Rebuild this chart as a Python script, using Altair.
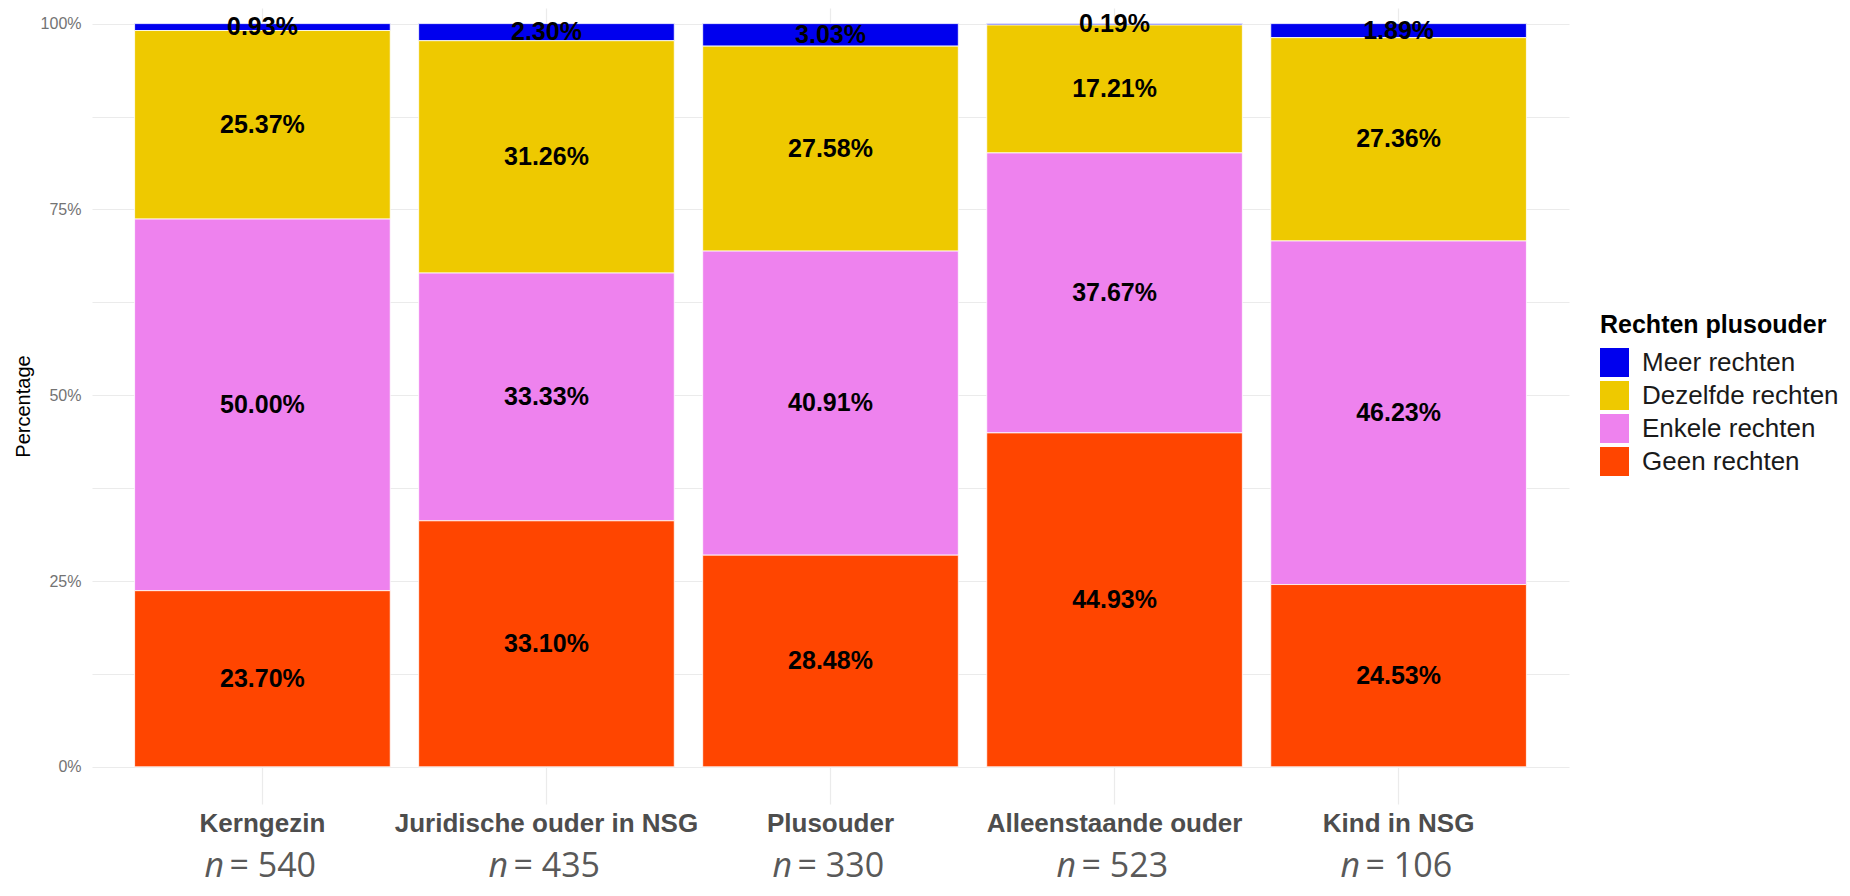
import altair as alt
import pandas as pd

categories = ["Kerngezin", "Juridische ouder in NSG", "Plusouder", "Alleenstaande ouder", "Kind in NSG"]
groups = ["Meer rechten", "Dezelfde rechten", "Enkele rechten", "Geen rechten"]
colors = ["#0000EE", "#EEC900", "#EE82EE", "#FF4500"]

meer = [0.93, 2.30, 3.03, 0.19, 1.89]
dezelfde = [25.37, 31.26, 27.58, 17.21, 27.36]
enkele = [50.00, 33.33, 40.91, 37.67, 46.23]
geen = [23.70, 33.10, 28.48, 44.93, 24.53]

n_values = [540, 435, 330, 523, 106]
y_ticks = [0, 0.125, 0.25, 0.375, 0.5, 0.625, 0.75, 0.875, 1.0]

series = {
    "Meer rechten": meer,
    "Dezelfde rechten": dezelfde,
    "Enkele rechten": enkele,
    "Geen rechten": geen,
}
stack_rank = {"Geen rechten": 0, "Enkele rechten": 1, "Dezelfde rechten": 2, "Meer rechten": 3}

rows = []
for g in groups:
    for c, v in zip(categories, series[g]):
        rows.append({"cat": c, "group": g, "value": v, "rank": stack_rank[g], "label": f"{v:.2f}%"})
df = pd.DataFrame(rows)
ndf = pd.DataFrame({"cat": categories, "n": n_values})

FONT = "Liberation Sans"

x_axis = alt.Axis(
    title=None, labelFont=FONT, labelFontWeight="bold", labelFontSize=26,
    labelColor="#4d4d4d", labelPadding=6, tickSize=0, domain=False, grid=True,
    gridColor="#ebebeb", gridWidth=1.2, bandPosition=0.5, labelAngle=0, labelLimit=400,
)
x_enc = alt.X("cat:N", sort=categories,
              scale=alt.Scale(paddingInner=0.1, paddingOuter=0.15), axis=x_axis)
x_plain = alt.X("cat:N", sort=categories)

y_scale = alt.Scale(domain=[-0.05, 1.021], nice=False, zero=False)
y_axis = alt.Axis(
    values=y_ticks,
    labelExpr="(round(datum.value*1000) % 250 == 0) ? format(datum.value, '.0%') : ''",
    title="Percentage", titleFont=FONT, titleFontSize=20, titleFontWeight="normal",
    titleColor="black", titlePadding=7, labelFont=FONT, labelFontSize=16,
    labelColor="#737373", labelPadding=11, tickSize=0, domain=False, grid=True,
    gridColor="#ebebeb", gridWidth=1.1,
)

legend = alt.Legend(
    orient="none", legendX=1508, legendY=305, title="Rechten plusouder",
    titleFont=FONT, titleFontSize=25, titleFontWeight="bold", titleColor="black",
    titlePadding=10, titleLimit=400, labelFont=FONT, labelFontSize=26, labelColor="#1a1a1a",
    labelLimit=400, symbolType="square", symbolSize=841, symbolStrokeWidth=0,
    labelOffset=13, rowPadding=4,
)

bars = alt.Chart(df).mark_bar(stroke="white", strokeWidth=0.8).encode(
    x=x_enc,
    y=alt.Y("value:Q", stack="normalize", scale=y_scale, axis=y_axis),
    color=alt.Color("group:N", scale=alt.Scale(domain=groups, range=colors), legend=legend),
    order=alt.Order("rank:Q", sort="ascending"),
)

labels = (
    alt.Chart(df)
    .transform_window(cum="sum(value)", groupby=["cat"],
                      sort=[alt.SortField("rank", order="ascending")], frame=[None, 0])
    .transform_joinaggregate(total="sum(value)", groupby=["cat"])
    .transform_calculate(mid="(datum.cum - datum.value/2)/datum.total")
    .mark_text(font=FONT, fontWeight="bold", fontSize=25, color="black", baseline="middle")
    .encode(x=x_plain, y=alt.Y("mid:Q"), text="label:N")
)

n_italic = alt.Chart(ndf).mark_text(
    text="n", font="Open Sans", fontStyle="italic", fontSize=34, color="#595959",
    align="left", baseline="alphabetic", dx=-58,
).encode(x=x_plain, y=alt.value(869))

n_rest = alt.Chart(ndf).transform_calculate(t="'= ' + datum.n").mark_text(
    font="Open Sans", fontSize=34, color="#595959", align="left",
    baseline="alphabetic", dx=-33,
).encode(x=x_plain, y=alt.value(869), text="t:N")

chart = alt.layer(bars, labels, n_italic, n_rest).properties(
    width=1477, height=796,
    autosize=alt.AutoSizeParams(type="none"),
    padding={"left": 84, "top": 0, "right": 273, "bottom": 84},
    background="white",
).configure_view(stroke=None)

chart.save("out.html", embed_options={"renderer": "svg", "actions": False})
